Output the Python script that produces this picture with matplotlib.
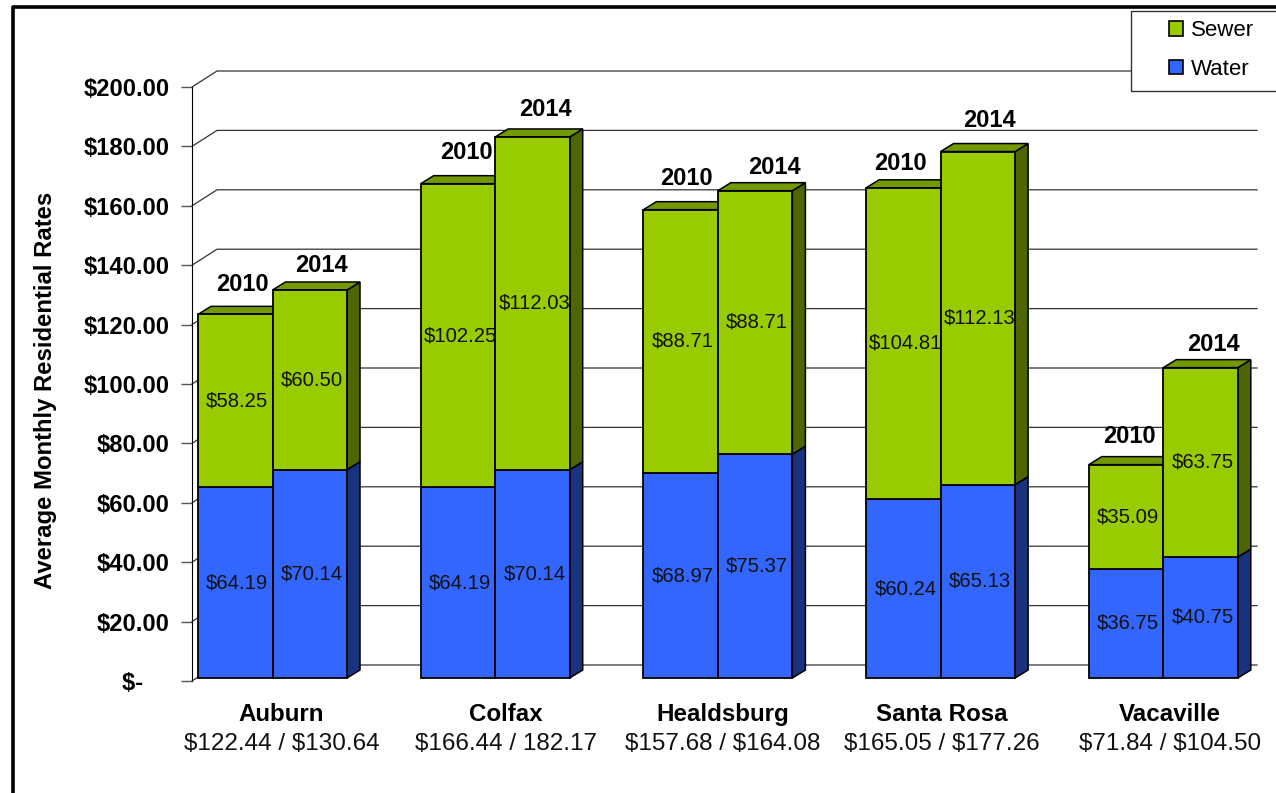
import matplotlib
matplotlib.use('Agg')
import matplotlib.pyplot as plt
from matplotlib.lines import Line2D
from matplotlib.patches import Polygon, Rectangle, Patch

plt.rcParams['font.family'] = ['Liberation Sans', 'DejaVu Sans']
plt.rcParams['text.parse_math'] = False  # the labels have two $ signs in them

W, H = 1276, 793

# chart values
cities = ['Auburn', 'Colfax', 'Healdsburg', 'Santa Rosa', 'Vacaville']
totals_text = ['$122.44 / $130.64', '$166.44 / 182.17', '$157.68 / $164.08',
               '$165.05 / $177.26', '$71.84 / $104.50']
water_2010 = [64.19, 64.19, 68.97, 60.24, 36.75]
water_2014 = [70.14, 70.14, 75.37, 65.13, 40.75]
sewer_2010 = [58.25, 102.25, 88.71, 104.81, 35.09]
sewer_2014 = [60.50, 112.03, 88.71, 112.13, 63.75]
yticks = [0, 20, 40, 60, 80, 100, 120, 140, 160, 180, 200]
ytick_labels = ['$-    ', '$20.00', '$40.00', '$60.00', '$80.00', '$100.00',
                '$120.00', '$140.00', '$160.00', '$180.00', '$200.00']

# pixel offsets of the year labels from the bar top centre
year_dx_2010 = [7, 8, 6, -3, 3]
year_dy_2010 = [30, 31, 31, 24, 28]
year_dx_2014 = [12, 13, 19, 12, 13]
year_dy_2014 = [24, 27, 23, 31, 23]
# pixel offset of the names and totals from the group centre
name_dx = [9, 10.5, 5, 1.5, 7]

GREEN, GREEN_TOP, GREEN_SIDE = '#99CC00', '#739900', '#4D6600'
BLUE, BLUE_TOP, BLUE_SIDE = '#3366FF', '#264DBF', '#1A3380'

# scale: 222.7 px per group, 2.97 px per dollar
PX_X, PX_Y = 222.7, 2.97
X0 = 272.5
width = 74.5 / PX_X
base = 3 / PX_Y  # bars stand a little in front of the floor edge
bar_dx, bar_dy = 13 / PX_X, 8 / PX_Y
wall_dx, wall_dy = 25 / PX_X, 16 / PX_Y

fig = plt.figure(figsize=(W / 100, H / 100), dpi=100, facecolor='white')
ax = fig.add_axes([192 / W, (H - 681) / H, (1257 - 192) / W, 594 / H])
ax.set_xlim((192 - X0) / PX_X, (1257 - X0) / PX_X)
ax.set_ylim(0, 200)
ax.patch.set_visible(False)
for side in ['top', 'right', 'bottom']:
    ax.spines[side].set_visible(False)
ax.spines['left'].set_linewidth(0.8)
ax.set_xticks([])
ax.set_yticks(yticks)
ax.set_yticklabels(ytick_labels, fontsize=17.1, fontweight='bold', color='black')
ax.tick_params(axis='y', length=8, width=1, color='#555555', pad=8)
ax.set_ylabel('Average Monthly Residential Rates', fontsize=17.2, fontweight='bold')
ax.yaxis.set_label_coords((57 - 192) / 1065, (681 - 390) / 594)

# back wall gridlines with the slanted bit on the side wall
xl, xr = ax.get_xlim()
for v in yticks:
    ax.plot([xl, xl + wall_dx, xr], [v, v + wall_dy, v + wall_dy],
            color='#333333', lw=0.9, clip_on=False, zorder=1)


def add_faces(x0, x1, y0, y1, top_col, side_col, z):
    side = Polygon([(x1, y0), (x1 + bar_dx, y0 + bar_dy), (x1 + bar_dx, y1 + bar_dy), (x1, y1)],
                   facecolor=side_col, edgecolor='black', lw=1.1, zorder=z, clip_on=False)
    top = Polygon([(x0, y1), (x0 + bar_dx, y1 + bar_dy), (x1 + bar_dx, y1 + bar_dy), (x1, y1)],
                  facecolor=top_col, edgecolor='black', lw=1.1, zorder=z, clip_on=False)
    ax.add_patch(side)
    ax.add_patch(top)


def add_series(xs, water, sewer, z):
    for x, w, s in zip(xs, water, sewer):
        x0, x1 = x - width / 2, x + width / 2
        add_faces(x0, x1, base, base + w, BLUE_TOP, BLUE_SIDE, z)
        add_faces(x0, x1, base + w, base + w + s, GREEN_TOP, GREEN_SIDE, z)
    bottoms = [base + w for w in water]
    b1 = ax.bar(xs, water, width, bottom=base, color=BLUE, edgecolor='black', lw=1.3, zorder=z + 1)
    b2 = ax.bar(xs, sewer, width, bottom=bottoms, color=GREEN, edgecolor='black', lw=1.3, zorder=z + 1)
    for cont in [b1, b2]:
        labels = ax.bar_label(cont, fmt='${:.2f}', label_type='center', fontsize=14.6, color='#111111')
        for lab in labels:
            lab.set_zorder(10)
            lab.set_position((1.5, 0))


x_pos = list(range(len(cities)))
x_2010 = [x - width / 2 for x in x_pos]
x_2014 = [x + width / 2 for x in x_pos]
add_series(x_2010, water_2010, sewer_2010, 2)
add_series(x_2014, water_2014, sewer_2014, 4)

# year labels above each bar
for i in x_pos:
    top10 = base + water_2010[i] + sewer_2010[i]
    top14 = base + water_2014[i] + sewer_2014[i]
    ax.annotate('2010', (x_2010[i], top10), xytext=(year_dx_2010[i] * 0.72, year_dy_2010[i] * 0.72),
                textcoords='offset points', ha='center', va='center', fontsize=17,
                fontweight='bold', zorder=12, annotation_clip=False)
    ax.annotate('2014', (x_2014[i], top14), xytext=(year_dx_2014[i] * 0.72, year_dy_2014[i] * 0.72),
                textcoords='offset points', ha='center', va='center', fontsize=17,
                fontweight='bold', zorder=12, annotation_clip=False)
    # names and totals under the groups
    ax.annotate(cities[i], (i, 0), xytext=(name_dx[i] * 0.72, -40 * 0.72), textcoords='offset points',
                ha='center', va='baseline', fontsize=17.4, fontweight='bold', annotation_clip=False)
    ax.annotate(totals_text[i], (i, 0), xytext=(name_dx[i] * 0.72, -69 * 0.72), textcoords='offset points',
                ha='center', va='baseline', fontsize=17.5, color='#111111', annotation_clip=False)

# legend box runs off the right edge of the picture
fig.add_artist(Rectangle((1131 / W, (H - 91) / H), 170 / W, 80 / H, transform=fig.transFigure,
                         facecolor='white', edgecolor='#333333', lw=1, zorder=5))
handles = [Patch(facecolor=GREEN, edgecolor='black', lw=1.2, label='Sewer'),
           Patch(facecolor=BLUE, edgecolor='black', lw=1.2, label='Water')]
leg = fig.legend(handles=handles, loc='upper left', bbox_to_anchor=(1169 / W, (H - 20) / H),
                 frameon=False, fontsize=16, borderpad=0, borderaxespad=0, handlelength=0.65,
                 handleheight=0.65, handletextpad=0.35, labelspacing=0.8)
leg.set_zorder(6)

# thick outer frame, top and left only
fig.add_artist(Line2D([12.5 / W, 12.5 / W, 1], [0, (H - 6.5) / H, (H - 6.5) / H],
                      color='black', lw=2.6, transform=fig.transFigure, zorder=7))

fig.savefig('out.png', dpi=100)
